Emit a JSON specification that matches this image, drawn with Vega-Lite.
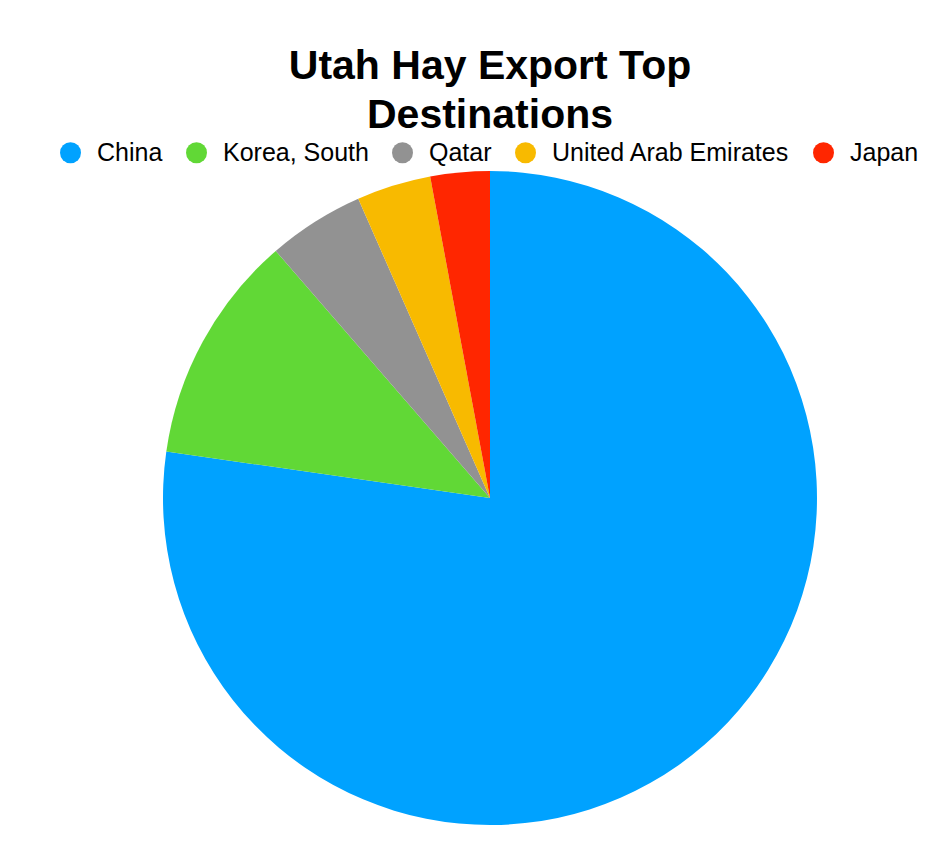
{
  "$schema": "https://vega.github.io/schema/vega-lite/v6.json",
  "width": 654,
  "height": 654,
  "autosize": {"type": "none"},
  "padding": {"left": 163, "top": 171, "right": 131, "bottom": 37},
  "background": "white",
  "title": {
    "text": ["Utah Hay Export Top", "Destinations"],
    "font": "Liberation Sans",
    "fontSize": 41,
    "fontWeight": "bold",
    "lineHeight": 49,
    "color": "black",
    "anchor": "middle",
    "frame": "group",
    "offset": 3
  },
  "data": {
    "values": [
      {"country": "China", "share": 77.27, "rank": 1},
      {"country": "Korea, South", "share": 11.36, "rank": 2},
      {"country": "Qatar", "share": 4.77, "rank": 3},
      {"country": "United Arab Emirates", "share": 3.67, "rank": 4},
      {"country": "Japan", "share": 2.93, "rank": 5}
    ]
  },
  "mark": {"type": "arc", "radius": 327, "stroke": null},
  "encoding": {
    "theta": {"field": "share", "type": "quantitative", "stack": true},
    "order": {"field": "rank", "type": "quantitative"},
    "color": {
      "field": "country",
      "type": "nominal",
      "scale": {
        "domain": ["China", "Korea, South", "Qatar", "United Arab Emirates", "Japan"],
        "range": ["#00A2FF", "#61D836", "#929292", "#F8BA00", "#FF2600"]
      },
      "legend": {
        "title": null,
        "orient": "none",
        "direction": "horizontal",
        "legendX": -105,
        "legendY": -31,
        "symbolType": "circle",
        "symbolSize": 441,
        "symbolStrokeWidth": 0,
        "symbolOpacity": 1,
        "labelFont": "Liberation Sans",
        "labelFontSize": 25,
        "labelColor": "black",
        "labelOffset": 14,
        "columnPadding": 21,
        "labelLimit": 400
      }
    }
  },
  "config": {"view": {"stroke": null}}
}
